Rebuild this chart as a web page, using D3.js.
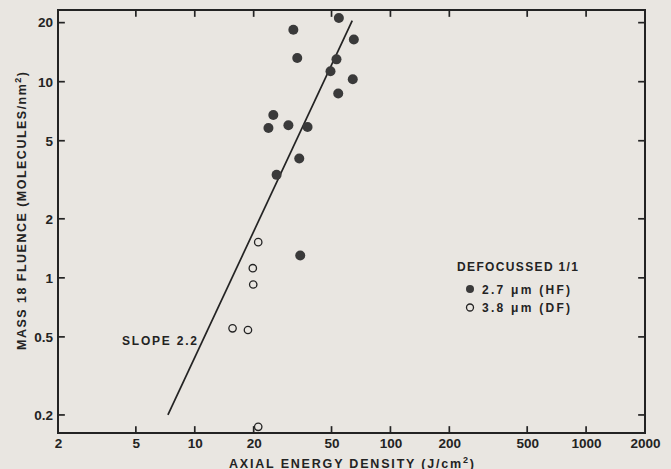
<!DOCTYPE html>
<html><head><meta charset="utf-8">
<script src="https://cdn.jsdelivr.net/npm/d3@7"></script>
<style>
html,body{margin:0;padding:0;background:#e9e6e1;}
svg{display:block;}
</style></head>
<body>
<svg id="chart" width="671" height="469"></svg>
<script>
// ---- data ----
const xTicks = [2, 5, 10, 20, 50, 100, 200, 500, 1000, 2000];
const xTickLabels = ["2","5","10","20","50","100","200","500","1000","2000"];
const yTicks = [0.2, 0.5, 1, 2, 5, 10, 20];
const yTickLabels = ["0.2","0.5","1","2","5","10","20"];

// 2.7 µm (HF) filled
const hfX = [54.5, 31.9, 65.0, 33.4, 53.0, 49.4, 64.2, 54.1, 25.2, 23.8, 30.1, 37.7, 34.2, 26.2, 34.6];
const hfY = [21.1, 18.4, 16.4, 13.2, 13.0, 11.3, 10.3, 8.7, 6.77, 5.81, 6.0, 5.87, 4.06, 3.35, 1.30];
// 3.8 µm (DF) open
const dfX = [21.1, 19.8, 19.9, 15.6, 18.7, 21.1];
const dfY = [1.52, 1.12, 0.925, 0.553, 0.542, 0.174];
// slope-2.2 fit line endpoints
const fitX = [7.29, 63.8];
const fitY = [0.2, 20.5];

const xTitle = "AXIAL ENERGY DENSITY (J/cm";
const yTitle = "MASS 18 FLUENCE (MOLECULES/nm";
const legendTitle = "DEFOCUSSED 1/1";
const legendItems = ["2.7 \u03bcm (HF)", "3.8 \u03bcm (DF)"];
const slopeLabel = "SLOPE 2.2";

// ---- layout ----
const L = 58, R = 645, T = 10, B = 433;
const ink = "#232323";
const FONT = "'Liberation Sans', Arial, Helvetica, sans-serif";
const svg = d3.select("#chart");

const x = d3.scaleLog().domain([2, 2000]).range([L, R]);
const y = d3.scaleLog().domain([0.1618, 23.2]).range([B, T]);

const tickLen = 6;
function seg(x1, y1, x2, y2, w) {
  svg.append("line").attr("x1", x1).attr("y1", y1).attr("x2", x2).attr("y2", y2)
    .style("stroke", ink).style("stroke-width", w + "px").style("stroke-linecap", "square");
}

// frame
seg(L, T, R, T, 2);
seg(R, T, R, B, 2);
seg(L, B, R, B, 2);
seg(L, T, L, B, 2);

// inward ticks on all four sides, positioned by the scales
xTicks.slice(1, -1).forEach(v => {
  seg(x(v), B, x(v), B - tickLen, 1.7);
  seg(x(v), T, x(v), T + tickLen, 1.7);
});
yTicks.forEach(v => {
  seg(L, y(v), L + tickLen, y(v), 1.7);
  seg(R, y(v), R - tickLen, y(v), 1.7);
});

// tick labels via d3 axes
const gb = svg.append("g").attr("transform", `translate(0,${B})`)
  .call(d3.axisBottom(x).tickValues(xTicks).tickFormat((d, i) => xTickLabels[i])
    .tickSize(0).tickPadding(5));
const gl = svg.append("g").attr("transform", `translate(${L},0)`)
  .call(d3.axisLeft(y).tickValues(yTicks).tickFormat((d, i) => yTickLabels[i])
    .tickSize(0).tickPadding(5));
[gb, gl].forEach(g => {
  g.select(".domain").remove();
  g.selectAll(".tick line").remove();
  g.selectAll(".tick text").attr("fill", ink).style("font-size", "13.5px")
    .style("font-family", FONT).style("font-weight", "bold");
});

// clip for data
svg.append("clipPath").attr("id", "clip").append("rect")
  .attr("x", L).attr("y", T).attr("width", R - L).attr("height", B - T);

// fit line
svg.append("line")
  .attr("x1", x(fitX[0])).attr("y1", y(fitY[0]))
  .attr("x2", x(fitX[1])).attr("y2", y(fitY[1]))
  .style("stroke", ink).style("stroke-width", "1.7px");

const plot = svg.append("g").attr("clip-path", "url(#clip)");
plot.selectAll("circle.hf").data(hfX.map((v, i) => [v, hfY[i]])).join("circle")
  .attr("class", "hf").attr("cx", d => x(d[0])).attr("cy", d => y(d[1])).attr("r", 5)
  .style("fill", "#3a3a3a");
plot.selectAll("circle.df").data(dfX.map((v, i) => [v, dfY[i]])).join("circle")
  .attr("class", "df").attr("cx", d => x(d[0])).attr("cy", d => y(d[1])).attr("r", 3.7)
  .style("fill", "none").style("stroke", ink).style("stroke-width", "1.3px");

function txt(xp, yp, size, len, s) {
  return svg.append("text").attr("x", xp).attr("y", yp)
    .style("font-family", FONT).style("font-weight", "bold").style("font-size", size + "px")
    .attr("fill", ink).attr("textLength", len).attr("lengthAdjust", "spacing").text(s);
}

// slope label
txt(122, 345, 12, 75, slopeLabel);

// legend
txt(457, 271, 12, 121, legendTitle);
svg.append("circle").attr("cx", 470).attr("cy", 289).attr("r", 4).style("fill", "#3a3a3a");
svg.append("circle").attr("cx", 470).attr("cy", 307.5).attr("r", 3.5).style("fill", "none")
  .style("stroke", ink).style("stroke-width", "1.3px");
legendItems.forEach((t, i) => txt(482, 293.5 + i * 18.5, 12, 88, t));

// axis titles
const xt = svg.append("text").attr("x", 229).attr("y", 467.5)
  .style("font-family", FONT).style("font-weight", "bold").style("font-size", "12.5px")
  .attr("fill", ink).attr("textLength", 245).attr("lengthAdjust", "spacing");
xt.append("tspan").text(xTitle);
xt.append("tspan").attr("dy", -5).style("font-size", "9px").text("2");
xt.append("tspan").attr("dy", 5).text(")");

const yt = svg.append("text").attr("transform", "translate(25.5,350) rotate(-90)")
  .style("font-family", FONT).style("font-weight", "bold").style("font-size", "12.5px")
  .attr("fill", ink).attr("textLength", 278).attr("lengthAdjust", "spacing");
yt.append("tspan").text(yTitle);
yt.append("tspan").attr("dy", -5).style("font-size", "9px").text("2");
yt.append("tspan").attr("dy", 5).text(")");
</script>
</body></html>
